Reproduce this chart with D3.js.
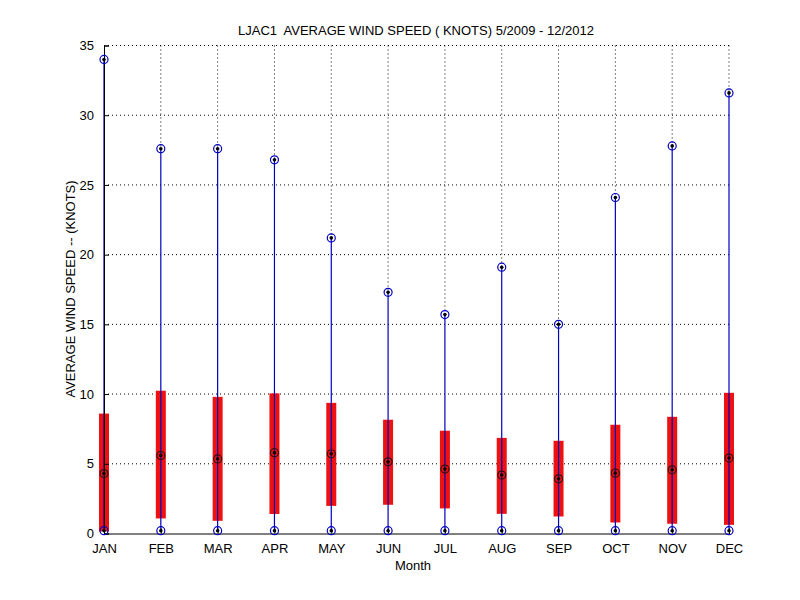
<!DOCTYPE html>
<html>
<head>
<meta charset="utf-8">
<script src="https://cdn.jsdelivr.net/npm/d3@7"></script>
<style>
  body { margin: 0; background: #fff; }
  svg { display: block; }
  text { font-family: "Liberation Sans", Arial, sans-serif; fill: #000; }
</style>
</head>
<body>
<svg id="chart" width="800" height="600"></svg>
<script>
const months = ["JAN","FEB","MAR","APR","MAY","JUN","JUL","AUG","SEP","OCT","NOV","DEC"];
const maxVals  = [34.0, 27.6, 27.6, 26.8, 21.2, 17.3, 15.7, 19.1, 15.0, 24.1, 27.8, 31.6];
const meanVals = [4.3, 5.6, 5.35, 5.8, 5.72, 5.14, 4.62, 4.19, 3.92, 4.33, 4.57, 5.41];
const barTop   = [8.6, 10.24, 9.8, 10.05, 9.37, 8.16, 7.37, 6.86, 6.65, 7.8, 8.37, 10.09];
const barBot   = [0.15, 1.08, 0.91, 1.4, 1.98, 2.06, 1.8, 1.41, 1.22, 0.79, 0.70, 0.62];
const minVals  = [0.2, 0.2, 0.2, 0.2, 0.2, 0.2, 0.2, 0.2, 0.2, 0.2, 0.2, 0.2];
const yTicks = [0, 5, 10, 15, 20, 25, 30, 35];

const svg = d3.select("#chart");
const L = 104, R = 729, T = 45.5, B = 533.5;
const x = d3.scaleLinear().domain([1, 12]).range([L, R]);
const y = d3.scaleLinear().domain([0, 35]).range([B, T]);
const idx = months.map((m, i) => i);

// grid
const g = svg.append("g");
g.selectAll("line.hg").data(yTicks.filter(v => v > 0)).enter().append("line")
  .attr("x1", L).attr("x2", R).attr("y1", d => y(d)).attr("y2", d => y(d))
  .attr("stroke", "#000").attr("stroke-width", 1).attr("stroke-dasharray", "1,3");
// vertical grid only above each range line (the range line covers the rest)
g.selectAll("line.vg").data(idx.slice(1)).enter().append("line")
  .attr("x1", d => x(d + 1)).attr("x2", d => x(d + 1)).attr("y1", T).attr("y2", d => y(maxVals[d]))
  .attr("stroke", "#000").attr("stroke-width", 1).attr("stroke-dasharray", "1,3");

// red bars
svg.selectAll("rect.bar").data(idx).enter().append("rect")
  .attr("x", d => x(d + 1) - 5).attr("width", 10)
  .attr("y", d => y(barTop[d])).attr("height", d => y(barBot[d]) - y(barTop[d]))
  .attr("fill", "#ee1111");

// blue range lines
svg.selectAll("line.rng").data(idx).enter().append("line")
  .attr("x1", d => x(d + 1)).attr("x2", d => x(d + 1))
  .attr("y1", d => y(minVals[d])).attr("y2", d => y(maxVals[d]))
  .attr("stroke", "#0000c0").attr("stroke-width", 1.2);

// axes
const yAxis = d3.axisLeft(y).tickValues(yTicks).tickSize(-5).tickPadding(10).tickFormat(d3.format("d"));
const ya = svg.append("g").attr("transform", `translate(${L},0)`).call(yAxis);
ya.select(".domain").attr("stroke", "#000");
ya.selectAll("text").style("font-size", "13px").attr("font-family", null);

const xAxis = d3.axisBottom(x).tickValues(d3.range(1, 13)).tickSize(-5).tickPadding(10)
  .tickFormat(d => months[d - 1]);
const xa = svg.append("g").attr("transform", `translate(0,${B})`).call(xAxis);
xa.select(".domain").attr("stroke", "#000");
xa.selectAll("text").style("font-size", "13px").attr("font-family", null);

// markers
function marker(vals, color) {
  const mg = svg.append("g");
  mg.selectAll("circle.o").data(idx).enter().append("circle")
    .attr("cx", d => x(d + 1)).attr("cy", d => y(vals[d])).attr("r", 4)
    .attr("fill", "none").attr("stroke", color).attr("stroke-width", 1.2);
  mg.selectAll("circle.dot").data(idx).enter().append("circle")
    .attr("cx", d => x(d + 1)).attr("cy", d => y(vals[d])).attr("r", 1.8)
    .attr("fill", "#000");
}
marker(minVals, "#0000c0");
marker(maxVals, "#0000c0");
marker(meanVals, "#331111");

// titles
svg.append("text").attr("x", 416).attr("y", 35).attr("text-anchor", "middle")
  .style("font-size", "13px").style("white-space", "pre")
  .text("LJAC1  AVERAGE WIND SPEED ( KNOTS) 5/2009 - 12/2012");
svg.append("text").attr("x", 413).attr("y", 570).attr("text-anchor", "middle")
  .style("font-size", "13px").text("Month");
svg.append("text").attr("transform", "translate(75,289) rotate(-90)").attr("text-anchor", "middle")
  .style("font-size", "13px").text("AVERAGE WIND SPEED -- (KNOTS)");
</script>
</body>
</html>
